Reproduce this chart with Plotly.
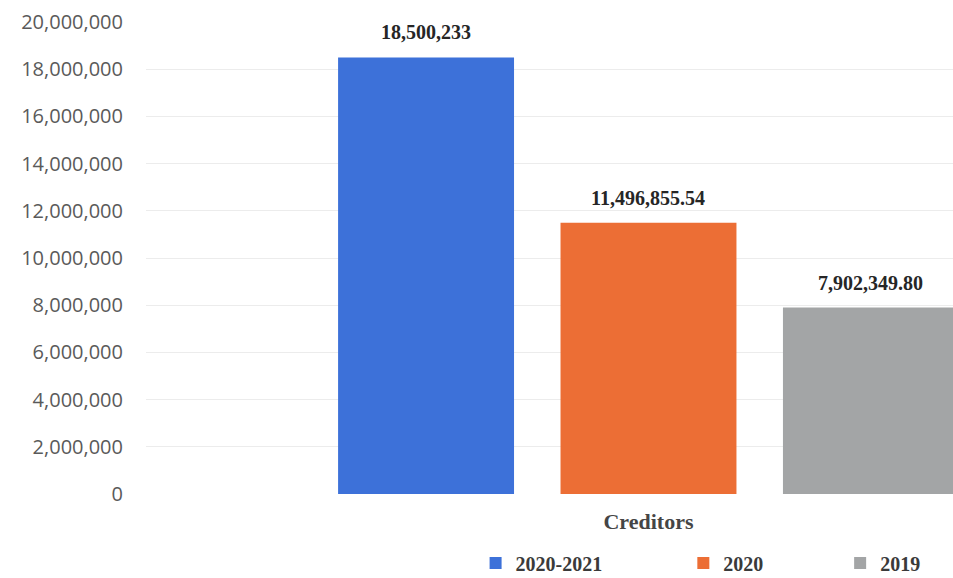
import plotly.graph_objects as go

# Source data
categories = ["Creditors"]
series_names = ["2020-2021", "2020", "2019"]
series_values = [18500233, 11496855.54, 7902349.80]
label_decimals = [0, 2, 2]
series_colors = ["#3d71d9", "#ec6e35", "#a3a5a6"]
y_tick_values = list(range(0, 20000001, 2000000))
y_tick_labels = [f"{v:,}" for v in y_tick_values]

BAR_GAP = 0.336
BAR_GROUP_GAP = 0.209
slot = (1 - BAR_GAP) / len(series_names)

serif_bold = dict(family="Liberation Serif", weight="bold")

fig = go.Figure()
legend_ids = ["legend", "legend2", "legend3"]
for name, val, col, lg in zip(series_names, series_values, series_colors, legend_ids):
    fig.add_trace(go.Bar(
        x=categories, y=[val], name=name,
        marker=dict(color=col, line=dict(width=0)),
        legend=lg,
    ))

# value labels above each bar
annotations = []
for i, (val, dec) in enumerate(zip(series_values, label_decimals)):
    annotations.append(dict(
        x=(i - (len(series_names) - 1) / 2) * slot, y=val,
        xref="x", yref="y",
        text=f"{val:,.{dec}f}", showarrow=False,
        yanchor="bottom", yshift=12,
        font=dict(size=20, color="#262626", **serif_bold),
    ))

legend_font = dict(size=20, color="#3a3a3a", **serif_bold)
legend_common = dict(orientation="h", yanchor="middle", y=-0.146,
                     xanchor="left", font=legend_font,
                     bgcolor="rgba(0,0,0,0)", borderwidth=0,
                     itemwidth=30)

fig.update_layout(
    width=953, height=578,
    margin=dict(l=146, r=0, t=22, b=84, autoexpand=False),
    paper_bgcolor="white", plot_bgcolor="white",
    barmode="group", bargap=BAR_GAP, bargroupgap=BAR_GROUP_GAP,
    annotations=annotations,
    legend=dict(x=(476 - 146) / 808, **legend_common),
    legend2=dict(x=(684 - 146) / 808, **legend_common),
    legend3=dict(x=(841 - 146) / 808, **legend_common),
    xaxis=dict(
        type="category", range=[-0.5, 0.303],
        showgrid=False, showline=False, zeroline=False,
        ticks="", ticklabelstandoff=12,
        tickfont=dict(size=22, color="#454545", **serif_bold),
    ),
    yaxis=dict(
        range=[0, 20000000],
        tickvals=y_tick_values, ticktext=y_tick_labels,
        showgrid=True, gridcolor="#ececec", gridwidth=1,
        zeroline=False, showline=False,
        ticks="", ticklabelstandoff=22,
        tickfont=dict(family="Open Sans", size=20, color="#5a5a5a"),
    ),
    showlegend=True,
)

fig.write_html("out.html")
